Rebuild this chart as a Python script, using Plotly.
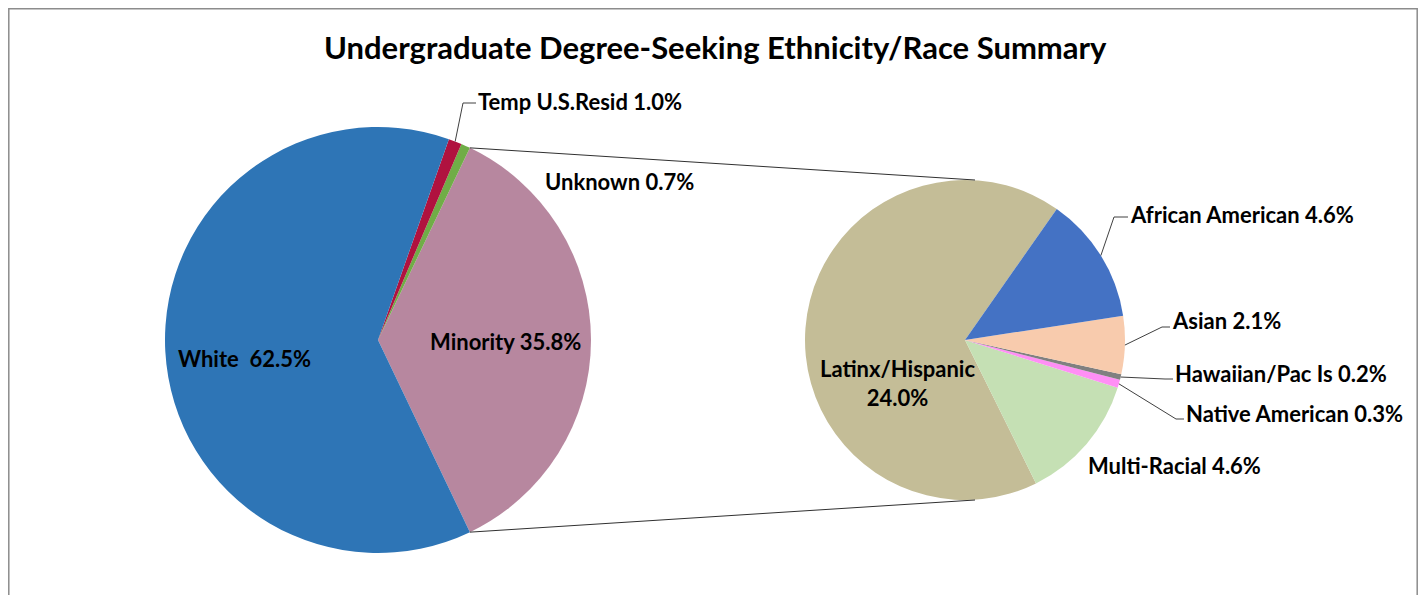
import math
import plotly.graph_objects as go

# ---------------- data ----------------
main_labels = ["Minority", "Unknown", "Temp U.S.Resid", "White"]
main_values = [35.8, 0.7, 1.0, 62.5]
main_colors = ["#B7879F", "#70AD47", "#B0123F", "#2E75B6"]

sub_labels = ["Latinx/Hispanic", "Multi-Racial", "Native American",
              "Hawaiian/Pac Is", "Asian", "African American"]
sub_values = [24.0, 4.6, 0.3, 0.2, 2.1, 4.6]
sub_colors = ["#C4BD97", "#C5E0B4", "#FF8FF5", "#808080", "#F8CBAD", "#4472C4"]

title_text = "Undergraduate Degree-Seeking Ethnicity/Race Summary"

# ---------------- layout geometry (screen pixels) ----------------
SW, SH = 1426, 603
OFF = 8                      # default page body margin
W, H = SW - 2 * OFF, SH - 2 * OFF
C1 = (378, 340); R1 = 213
C2 = (965, 340); R2 = 160
SUB_ROT = 35  # compass degrees of the Latinx / African American boundary

FONT = "Lato"
LBL = dict(family=FONT, size=22, color="black")


def px(x, y):
    return (x - OFF) / W, 1 - (y - OFF) / H


def dom(c, r):
    x0, y1 = px(c[0] - r, c[1] - r)
    x1, y0 = px(c[0] + r, c[1] + r)
    return dict(x=[x0, x1], y=[y0, y1])


minority_share = main_values[0] / sum(main_values)
main_rot = 90 - minority_share * 180  # minority slice centred at 3 o'clock
latinx_deg = sub_values[0] / sum(sub_values) * 360
sub_rot = SUB_ROT - latinx_deg + 360

fig = go.Figure()
fig.add_trace(go.Pie(labels=main_labels, values=main_values, sort=False,
                     direction="counterclockwise", rotation=main_rot,
                     marker=dict(colors=main_colors, line=dict(width=0)),
                     textinfo="none", hoverinfo="label+value",
                     domain=dom(C1, R1)))
fig.add_trace(go.Pie(labels=sub_labels, values=sub_values, sort=False,
                     direction="counterclockwise", rotation=sub_rot,
                     marker=dict(colors=sub_colors, line=dict(width=0)),
                     textinfo="none", hoverinfo="label+value",
                     domain=dom(C2, R2)))


def edge_main(idx):
    tot = sum(main_values)
    start = -minority_share * 180
    a = start + sum(main_values[:idx]) / tot * 360 + main_values[idx] / tot * 180
    return (C1[0] + R1 * math.cos(math.radians(a)), C1[1] - R1 * math.sin(math.radians(a)))


def edge_sub(idx):
    tot = sum(sub_values)
    start = 90 - SUB_ROT
    a = start + sum(sub_values[:idx]) / tot * 360 + sub_values[idx] / tot * 180
    return (C2[0] + R2 * math.cos(math.radians(a)), C2[1] - R2 * math.sin(math.radians(a)))


shapes = []
# border
bx0, by0 = px(8.8, 8.8); bx1, by1 = px(1417.2, 640)
shapes.append(dict(type="rect", xref="paper", yref="paper", x0=bx0, y0=by1, x1=bx1, y1=by0,
                   line=dict(color="#8C8C8C", width=1.5), fillcolor="rgba(0,0,0,0)"))

# connector lines from the minority slice to the secondary pie
a = math.radians(minority_share * 180)
top_main = (C1[0] + R1 * math.cos(a), C1[1] - R1 * math.sin(a))
bot_main = (C1[0] + R1 * math.cos(a), C1[1] + R1 * math.sin(a))
top_sub = (C2[0] + 10, C2[1] - R2)
bot_sub = (C2[0] + 10, C2[1] + R2)
for p, q in [(top_main, top_sub), (bot_main, bot_sub)]:
    ax0, ay0 = px(*p); ax1, ay1 = px(*q)
    shapes.append(dict(type="line", xref="paper", yref="paper", x0=ax0, y0=ay0, x1=ax1, y1=ay1,
                       line=dict(color="#303030", width=1)))


def leader(points):
    pts = [px(*p) for p in points]
    path = "M " + " L ".join(f"{x},{y}" for x, y in pts)
    shapes.append(dict(type="path", xref="paper", yref="paper", path=path,
                       line=dict(color="#404040", width=1)))


leader([edge_main(2), (463, 103), (476, 103)])
leader([edge_sub(5), (1114, 217), (1128, 217)])
leader([edge_sub(4), (1162, 327), (1170, 327)])
leader([edge_sub(3), (1165, 379), (1173, 379)])
leader([edge_sub(2), (1176, 419), (1184, 419)])

annotations = []


def label(text, x, y, anchor="left"):
    ax, ay = px(x, y)
    annotations.append(dict(text=text, x=ax, y=ay, xref="paper", yref="paper",
                            xanchor=anchor, yanchor="middle", showarrow=False,
                            font=LBL, align="center"))


def fmt(name, v):
    return f"<b>{name} {v:.1f}%</b>"


label(fmt(main_labels[2], main_values[2]), 476, 101)
label(fmt(main_labels[1], main_values[1]), 543, 181)
label(f"<b>{main_labels[3]}\u00a0 {main_values[3]:.1f}%</b>", 176, 358)
label(fmt(main_labels[0], main_values[0]), 428, 341)
label(f"<b>{sub_labels[0]}<br>{sub_values[0]:.1f}%</b>", 897, 383, anchor="center")
label(fmt(sub_labels[5], sub_values[5]), 1128, 215)
label(fmt(sub_labels[4], sub_values[4]), 1170, 320)
label(fmt(sub_labels[3], sub_values[3]), 1173, 373)
label(fmt(sub_labels[2], sub_values[2]), 1184, 413)
label(fmt(sub_labels[1], sub_values[1]), 1086, 465)

tx, ty = px(715, 47)
annotations.append(dict(text=f"<b>{title_text}</b>", x=tx, y=ty, xref="paper", yref="paper",
                        xanchor="center", yanchor="middle", showarrow=False,
                        font=dict(family=FONT, size=31, color="black")))

fig.update_layout(width=W, height=H, margin=dict(l=0, r=0, t=0, b=0),
                  paper_bgcolor="white", plot_bgcolor="white", showlegend=False,
                  shapes=shapes, annotations=annotations)

fig.write_html("out.html")
